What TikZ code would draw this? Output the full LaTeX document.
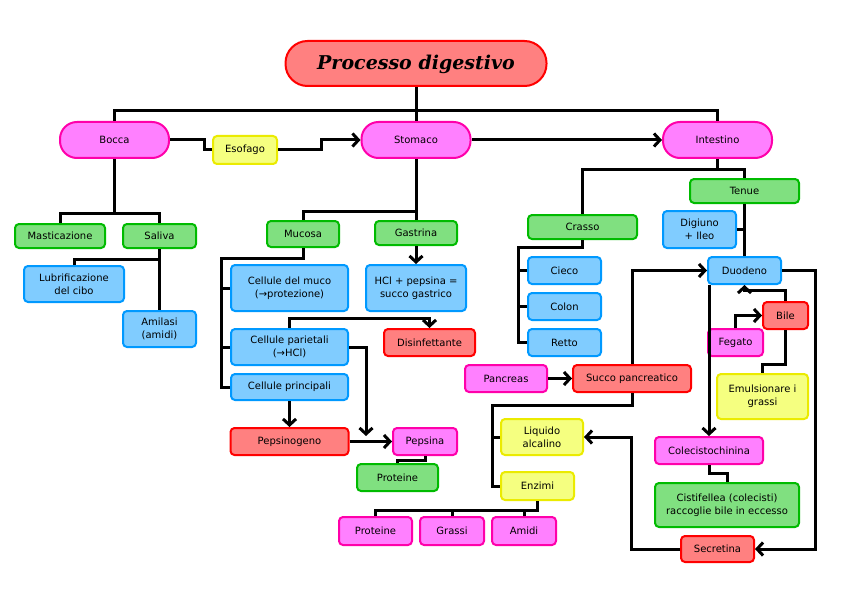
\documentclass[tikz,border=0pt]{standalone}
\usepackage{fontspec}
\setmainfont{DejaVu Sans}
\newfontfamily\titlefont{DejaVu Serif}
\usetikzlibrary{arrows.meta}
\definecolor{PDpink}{RGB}{255,128,255}
\definecolor{PDpinkD}{RGB}{255,0,170}
\definecolor{PDred}{RGB}{255,128,128}
\definecolor{PDredD}{RGB}{255,0,0}
\definecolor{PDgreen}{RGB}{128,224,128}
\definecolor{PDgreenD}{RGB}{0,187,0}
\definecolor{PDblue}{RGB}{128,204,255}
\definecolor{PDblueD}{RGB}{0,153,255}
\definecolor{PDyellow}{RGB}{245,255,128}
\definecolor{PDyellowD}{RGB}{235,235,0}
\tikzset{
  comp/.style={rectangle, rounded corners=4pt, line width=2pt, align=center,
    inner sep=1pt, font=\fontsize{10}{13}\selectfont},
  pinkbox/.style={comp, draw=PDpinkD, fill=PDpink},
  redbox/.style={comp, draw=PDredD, fill=PDred},
  greenbox/.style={comp, draw=PDgreenD, fill=PDgreen},
  bluebox/.style={comp, draw=PDblueD, fill=PDblue},
  yellowbox/.style={comp, draw=PDyellowD, fill=PDyellow},
  pill/.style={pinkbox, rounded corners=17pt, minimum width=109pt, minimum height=36pt},
  wh/.style 2 args={minimum width=#1pt, minimum height=#2pt},
  link/.style={line width=3pt},
  flow/.style={link, -{Straight Barb[length=6pt,width=13pt]}},
}
\begin{document}
\begin{tikzpicture}[x=1pt, y=-1pt]
  \useasboundingbox (0,0) rectangle (842,596);
  % main line
  \node[redbox, rounded corners=22pt, wh={261}{45}, text depth=2pt, font=\titlefont\bfseries\itshape\fontsize{19}{22}\selectfont] (title) at (416,63.5) {Processo digestivo};
  \node[pill] (bocca) at (114.5,140) {Bocca};
  \node[pill] (stomaco) at (416,140) {Stomaco};
  \node[pill] (intestino) at (717.5,140) {Intestino};
  \node[yellowbox, wh={64}{28}] (esofago) at (245,150) {Esofago};
  % bocca
  \node[greenbox, wh={90}{24}] (mastic) at (60,236) {Masticazione};
  \node[greenbox, wh={73}{24}] (saliva) at (159.5,236) {Saliva};
  \node[bluebox, wh={100}{36}] (lubrif) at (74,284) {Lubrificazione\\del cibo};
  \node[bluebox, wh={73}{36}] (amilasi) at (159.5,329) {Amilasi\\(amidi)};
  % stomaco
  \node[greenbox, wh={72}{26}] (mucosa) at (303,234) {Mucosa};
  \node[greenbox, wh={82}{24}] (gastrina) at (416,233) {Gastrina};
  \node[bluebox, wh={100}{46}] (hcl) at (416,288) {HCl + pepsina =\\succo gastrico};
  \node[bluebox, wh={117}{46}] (muco) at (289.5,288) {Cellule del muco\\(→protezione)};
  \node[bluebox, wh={117}{36}] (parietali) at (289.5,347) {Cellule parietali\\(→HCl)};
  \node[bluebox, wh={117}{26}] (principali) at (289.5,387) {Cellule principali};
  \node[redbox, wh={91}{27}] (disinf) at (429.5,342.5) {Disinfettante};
  \node[redbox, wh={118}{27}] (pepsinogeno) at (289.5,441.5) {Pepsinogeno};
  \node[pinkbox, wh={64}{27}] (pepsina) at (425,441.5) {Pepsina};
  \node[greenbox, wh={81}{27}] (proteineA) at (397.5,477.5) {Proteine};
  % intestino
  \node[greenbox, wh={109}{24}] (tenue) at (744.5,191) {Tenue};
  \node[greenbox, wh={109}{24}] (crasso) at (582.5,227) {Crasso};
  \node[bluebox, wh={73}{27}] (cieco) at (564.5,270.5) {Cieco};
  \node[bluebox, wh={73}{27}] (colon) at (564.5,306.5) {Colon};
  \node[bluebox, wh={73}{27}] (retto) at (564.5,342.5) {Retto};
  \node[bluebox, wh={73}{37}] (digiuno) at (699.5,229.5) {Digiuno\\+ Ileo};
  \node[bluebox, wh={73}{27}] (duodeno) at (744.5,270.5) {Duodeno};
  \node[pinkbox, wh={82}{27}] (pancreas) at (506,378.5) {Pancreas};
  \node[redbox, wh={118}{27}] (succo) at (632,378.5) {Succo pancreatico};
  \node[yellowbox, wh={82}{36}] (liquido) at (542,437) {Liquido\\alcalino};
  \node[yellowbox, wh={73}{28}] (enzimi) at (537.5,486) {Enzimi};
  \node[pinkbox, wh={73}{28}] (proteineB) at (375.5,531) {Proteine};
  \node[pinkbox, wh={64}{28}] (grassi) at (452,531) {Grassi};
  \node[pinkbox, wh={64}{28}] (amidi) at (524,531) {Amidi};
  \node[pinkbox, wh={55}{27}] (fegato) at (735.5,342.5) {Fegato};
  \node[redbox, wh={45}{27}] (bile) at (785.5,315.5) {Bile};
  \node[yellowbox, wh={91}{45}] (emuls) at (762.5,396.5) {Emulsionare i\\grassi};
  \node[pinkbox, wh={108}{27}] (colec) at (709,450.5) {Colecistochinina};
  \node[greenbox, wh={144}{44}] (cisti) at (727,505) {Cistifellea (colecisti)\\raccoglie bile in eccesso};
  \node[redbox, wh={73}{26}] (secretina) at (717.5,549) {Secretina};
  % joints
  \coordinate (topbar) at (416,111);
  \coordinate (bj) at (114.5,213);
  \coordinate (sj) at (159.5,259);
  \coordinate (stj) at (416,211);
  \coordinate (mucbar) at (221,258);
  \coordinate (pjoin) at (366,436);
  \coordinate (crbar) at (518,247);
  \coordinate (sbar) at (492,405);
  % connectors
  \draw[link] (title) -- (stomaco);
  \draw[link] (bocca.north) |- (topbar) -| (intestino.north);
  \draw[link] (bocca.east) -- ++(34,0) |- (esofago.west);
  \draw[flow] (esofago.east) -- ++(43,0) |- (stomaco.west);
  \draw[flow] (stomaco) -- (intestino);
  \draw[link] (bocca) -- (bj);
  \draw[link] (mastic.north) |- (bj) -| (saliva.north);
  \draw[link] (saliva) -- (amilasi);
  \draw[link] (lubrif.north) |- (sj);
  \draw[link] (stomaco) -- (gastrina);
  \draw[link] (mucosa.north) |- (stj);
  \draw[flow] (gastrina) -- (hcl);
  \draw[link] (mucosa.south) |- (mucbar) |- (principali.west);
  \draw[link] (muco.west -| mucbar) -- (muco.west);
  \draw[link] (parietali.west -| mucbar) -- (parietali.west);
  \draw[flow] (parietali.north) -- ++(0,-10) -| (disinf.north);
  \draw[flow] (parietali.east) -| (pjoin);
  \draw[flow] (principali) -- (pepsinogeno);
  \draw[flow] (pepsinogeno) -- (pepsina);
  \draw[link] (pepsina.south) -- ++(0,4) -| (proteineA.north);
  \draw[link] (intestino.south) -- ++(0,10) coordinate (ij) -| (crasso.north);
  \draw[link] (ij) -| (tenue.north);
  \draw[link] (crasso.south) |- (crbar) |- (retto.west);
  \draw[link] (cieco.west -| crbar) -- (cieco.west);
  \draw[link] (colon.west -| crbar) -- (colon.west);
  \draw[link] (tenue) -- (duodeno);
  \draw[link] (digiuno.east) -- (digiuno.east -| tenue.south);
  \draw[flow] (pancreas) -- (succo);
  \draw[flow] (succo.north) |- (duodeno.west);
  \draw[link] (succo.south) |- (sbar) |- (enzimi.west);
  \draw[link] (liquido.west -| sbar) -- (liquido.west);
  \draw[link] (enzimi.south) -- ++(0,9) coordinate (ej) -| (proteineB.north);
  \draw[link] (ej) -| (grassi.north);
  \draw[link] (ej) -| (amidi.north);
  \draw[flow] (duodeno.east) -- ++(33,0) |- (secretina.east);
  \draw[flow] (secretina.west) -- ++(-49,0) |- (liquido.east);
  \draw[flow] (duodeno.south west -| colec.north) -- (colec.north);
  \draw[link] (colec.south) -- ++(0,8) -| (cisti.north);
  \draw[flow] (fegato.north) |- (bile.west);
  \draw[flow] (bile.north) -- ++(0,-11) -| (duodeno.south);
  \draw[link] (bile.south) -- ++(0,34) -| (emuls.north);
\end{tikzpicture}
\end{document}
